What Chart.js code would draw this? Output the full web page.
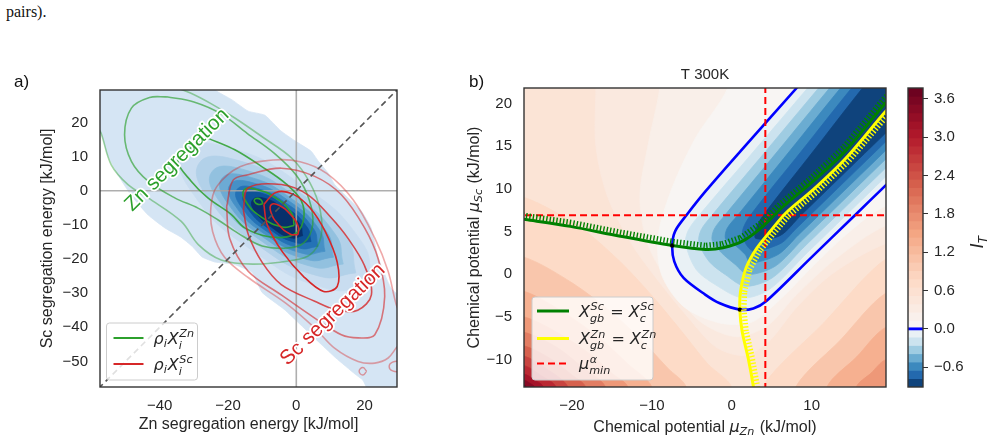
<!DOCTYPE html>
<html><head><meta charset="utf-8"><title>Segregation chart</title>
<script src="https://cdn.jsdelivr.net/npm/chart.js@4.4.1/dist/chart.umd.min.js"></script>
<style>
html,body{margin:0;padding:0;background:#fff;}
#wrap{position:relative;width:991px;height:441px;overflow:hidden;background:#fff;}
#wrap canvas{position:absolute;left:0;top:0;}
#pre{position:absolute;left:6px;top:3px;font-family:"Liberation Serif","DejaVu Serif",serif;font-size:16px;line-height:18px;color:#111;}
</style></head>
<body><div id="wrap"><div id="pre">pairs).</div>
<canvas id="cA" width="991" height="441"></canvas>
<canvas id="cB" width="991" height="441"></canvas>
<canvas id="cC" width="991" height="441"></canvas>
</div>
<script>
// ================= PANEL a DATA =================
const aTicksX = [-40, -20, 0, 20];
const aTicksY = [-50, -40, -30, -20, -10, 0, 10, 20];
const aLimits = [-57.5, 29.5];

const densityEnvelope = [[-59,31],[-23.8,31],[-23.8,29.5],[-18.8,26.6],[-14.1,23.3],[-9.2,22.1],[-4.5,17.5],[-0.4,14.6],[4.3,11.6],[6.4,8.7],[9.3,5.2],[11.3,1.7],[15.1,-2.1],[19.0,-5.9],[21.9,-10.9],[24.0,-19.7],[27.7,-28.5],[31,-32],[31,-59],[21.5,-59],[19.5,-55.5],[17.2,-53.7],[11.6,-49.0],[7.2,-44.9],[1.4,-39.4],[-3.6,-34.7],[-10.0,-29.8],[-13.0,-23.9],[-18.5,-21.5],[-23.8,-20.9],[-27.6,-19.4],[-30.6,-16.2],[-33.8,-13.6],[-38.5,-10.9],[-43.4,-7.1],[-48.4,-1.3],[-52.2,4.6],[-55.2,10.4],[-57.2,16.9],[-59,17]];
const densityRing1 = [[22.35,-27.52],[19.06,-14.85],[1.39,1.83],[-20.32,12.75],[-33.35,11.52],[-30.06,-1.15],[-12.39,-17.83],[9.32,-28.75],[22.35,-27.52]];
const densityRing2 = [[17.43,-24.07],[14.69,-13.68],[0.13,0.03],[-17.73,9.04],[-28.43,8.07],[-25.69,-2.32],[-11.13,-16.03],[6.73,-25.04],[17.43,-24.07]];
const densityRing3 = [[13.75,-21.49],[11.44,-12.79],[-0.79,-1.28],[-15.78,6.29],[-24.75,5.49],[-22.44,-3.21],[-10.21,-14.72],[4.78,-22.29],[13.75,-21.49]];
const densityRing4 = [[10.88,-19.48],[8.92,-12.07],[-1.48,-2.27],[-14.24,4.17],[-21.88,3.48],[-19.92,-3.93],[-9.52,-13.73],[3.24,-20.17],[10.88,-19.48]];
const densityRing5 = [[8.42,-17.76],[6.77,-11.43],[-2.06,-3.09],[-12.91,2.37],[-19.42,1.76],[-17.77,-4.57],[-8.94,-12.91],[1.91,-18.37],[8.42,-17.76]];
const densityRing6 = [[6.38,-16.32],[4.93,-10.98],[-2.63,-3.9],[-11.87,0.78],[-17.38,0.32],[-15.93,-5.02],[-8.37,-12.1],[0.87,-16.78],[6.38,-16.32]];
const densityRing7 = [[4.33,-14.89],[3.07,-10.55],[-3.2,-4.72],[-10.83,-0.55],[-15.33,-1.11],[-14.07,-5.45],[-7.8,-11.28],[-0.17,-15.19],[4.33,-14.89]];
const densityRing8 = [[1.87,-13.17],[1.01,-9.8],[-3.66,-5.38],[-9.41,-2.2],[-12.87,-2.83],[-12.01,-6.2],[-7.34,-10.62],[-1.59,-13.8],[1.87,-13.17]];

const contourZn1 = [[-58.5,19],[-57.2,16.9],[-54.2,7.6],[-49.3,1.8],[-43.4,-2.1],[-33.7,-9.0],[-28.7,-15.8],[-22,-20.3],[-12.7,-21.5],[-1.8,-20.5],[4.0,-18.8],[7.2,-13.6],[7.0,-5.7],[4.0,2.3],[-1.3,9.5],[-10,15.8],[-18,21.3],[-25,25.5],[-31,28.6],[-36,30.5],[-40,32]];
const contourZn2 = [[-38,27.5],[-30,26],[-22,22.5],[-14.4,16.8],[-6.5,11],[0,4.5],[3.8,-2.7],[4.8,-10],[2.2,-15.3],[-2.5,-16.8],[-10,-16.2],[-17,-12.5],[-23,-8.5],[-28.8,-5.1],[-35.6,-2.1],[-43.4,2.8],[-48.3,8.6],[-50.3,16.4],[-48.3,24.2],[-43,27.3],[-38,27.5]];
const contourZn3 = [[-25.9,15.4],[-31,12.5],[-34.7,8.6],[-30.8,2.8],[-25.9,-2.1],[-19,-7],[-15.1,-10.9],[-8,-13.5],[-1,-13],[2,-9],[1.5,-3],[-3,2],[-10,7],[-18,12],[-25.9,15.4]];
const contourZn4 = [[-0.63,-10.17],[-1.37,-6.62],[-5.99,-2.13],[-11.79,0.38],[-15.37,0.17],[-14.63,-3.38],[-10.01,-7.87],[-4.21,-10.62],[-0.63,-10.17]];
const contourZn5 = [[-9.8,-3.8],[-10.4,-2.6],[-11.8,-2.3],[-12.3,-3.1],[-11.2,-4.0],[-9.8,-3.8]];

const contourSc1 = [[31,-37],[29.3,-33.4],[26.9,-23.6],[23,-13.9],[16.7,-2.7],[8.9,5.1],[1.1,8.5],[-6.7,9.0],[-16.5,7.0],[-23.3,1.2],[-25,-4.7],[-24.5,-12],[-21,-19.5],[-14,-25.5],[-3,-33],[5.4,-40.2],[11.2,-46.1],[18.1,-50],[23,-50.5],[26.9,-49],[29.3,-46],[31,-44]];
const contourSc2 = [[-20.4,-4.7],[-18.5,3.1],[-14.1,4.7],[-4.4,6.6],[5.4,4.2],[13.2,-1.2],[20,-10.9],[24,-20],[25.9,-31],[23,-42.2],[18.1,-43.1],[13.2,-42.2],[5.4,-37.3],[-4.4,-30.5],[-14.1,-23.6],[-19.5,-14],[-20.4,-4.7]];
const contourSc3 = [[-15.5,-5.7],[-14.1,0.8],[-4.4,1.8],[3.4,-1.2],[10.3,-8],[15.1,-13.9],[20,-22],[22,-30.5],[18,-35],[12,-35],[5.4,-32.4],[-4.4,-27.5],[-10,-21],[-14,-13],[-15.5,-5.7]];
const contourSc4 = [[-9.5,-4],[-6,-0.5],[-1,-1],[4,-5],[8.5,-12],[12,-21],[12,-28],[8,-29.5],[2,-25],[-4,-18],[-8.5,-10],[-9.5,-4]];
const contourSc5 = [[0.51,-12.92],[0.58,-10.54],[-1.68,-6.98],[-4.94,-4.34],[-7.31,-4.08],[-7.38,-6.46],[-5.12,-10.02],[-1.86,-12.66],[0.51,-12.92]];
const contourScIsland1 = [[20.6,-52.9],[19.5,-51.8],[18.4,-52.9],[19.5,-54],[20.6,-52.9]];
const contourScIsland2 = [[31,-50],[28.2,-50.2],[27.2,-51.5],[28.2,-52.8],[31,-53]];

const zeroLineV = [[0,-60],[0,32]];
const zeroLineH = [[-60,0],[32,0]];
const diagonalLine = [[-60,-60],[32,32]];
const labelZn = {text:'Zn segregation', x:-34.9, y:9.0};
const labelSc = {text:'Sc segregation', x:10.7, y:-36.3};

// ================= PANEL b DATA =================
const bTicksX = [-20, -10, 0, 10];
const bTicksY = [-10, -5, 0, 5, 10, 15, 20];
const bLimitsX = [-26, 19.3];
const bLimitsY = [-13.2, 21.8];

const itZero = [[10.7,24.58],[8.09,21.77],[1.1,14.42],[-3.3,9.7],[-5.7,6.88],[-7.08,5.05],[-7.45,3.37],[-7.2,1.5],[-6.03,-0.43],[-3.33,-2.38],[-1.5,-3.4],[1.01,-4.14],[2.7,-4.0],[4.3,-3.16],[9.84,1.86],[15.38,6.88],[19.13,10.28],[22.26,13.12]];
const itNeg1 = [[12.08,24.58],[9.47,21.77],[2.78,14.42],[-4.10,6.88],[-5.45,5.12],[-5.78,3.56],[-4.45,0.55],[-2.08,-1.21],[1.34,-2.77],[4.68,-1.79],[9.47,2.54],[14.26,6.88],[19.13,11.30],[22.26,14.14]];
const itNeg2 = [[13.45,24.58],[10.84,21.77],[4.27,14.42],[-2.49,6.88],[-3.83,5.20],[-4.12,3.76],[-2.87,1.53],[-0.83,-0.03],[1.68,-1.40],[5.05,-0.43],[9.09,3.23],[13.13,6.88],[19.13,12.32],[22.26,15.16]];
const itNeg3 = [[14.83,24.58],[12.22,21.77],[5.76,14.42],[-0.89,6.88],[-2.20,5.28],[-2.45,3.95],[-1.28,2.51],[0.43,1.14],[2.01,-0.03],[5.43,0.94],[8.72,3.91],[12.01,6.88],[19.13,13.35],[22.26,16.18]];
const itNeg4 = [[16.20,24.58],[13.59,21.77],[7.25,14.42],[0.72,6.88],[-0.58,5.36],[-0.78,4.15],[0.30,3.48],[1.68,2.31],[2.34,1.33],[5.80,2.31],[8.34,4.60],[10.88,6.88],[19.13,14.37],[22.26,17.20]];
const itNeg5 = [[17.58,24.58],[14.97,21.77],[8.73,14.42],[2.32,6.88],[1.34,5.05],[1.76,3.56],[2.76,2.70],[6.18,3.64],[7.97,5.26],[9.76,6.88],[19.13,15.39],[22.26,18.22]];
const itNeg6 = [[18.95,24.58],[16.34,21.77],[10.22,14.42],[3.93,6.88],[3.09,5.44],[3.01,4.19],[6.01,4.50],[8.63,6.88],[19.13,16.41],[22.26,19.24]];
const itNegLevels = [0, -0.13, -0.26, -0.39, -0.52, -0.65, -0.78];

const lobeLevels = [0.6, 0.9, 1.2, 1.5, 1.8, 2.1, 2.4, 2.7, 3.0, 3.3, 3.6];
const lobeLowerLeft = [
 [[-30,9],[-26,9],[-19,5.5],[-14,1.5],[-10,-2.5],[-6,-7],[-3,-10.5],[0,-13.2],[0,-17],[-30,-17]],
 [[-30,2],[-26,2],[-20,-1],[-15,-4.5],[-11,-8],[-8,-11],[-5.7,-13.2],[-5.7,-17],[-30,-17]],
 [[-30,-2],[-26,-2],[-21,-4.5],[-16.5,-7.5],[-13,-10.5],[-10,-13.2],[-10,-17],[-30,-17]],
 [[-30,-5],[-26,-5],[-21.5,-7],[-17.5,-9.5],[-15,-11.6],[-13,-13.2],[-13,-17],[-30,-17]],
 [[-30,-6.8],[-26,-6.8],[-22,-8.5],[-18.8,-10.8],[-15.8,-13.2],[-15.8,-17],[-30,-17]],
 [[-30,-8.4],[-26,-8.4],[-22.5,-10],[-20,-11.8],[-18.3,-13.2],[-18.3,-17],[-30,-17]],
 [[-30,-9.6],[-26,-9.6],[-23.3,-11],[-20.5,-13.2],[-20.5,-17],[-30,-17]],
 [[-30,-10.7],[-26,-10.7],[-23.8,-11.9],[-22,-13.2],[-22,-17],[-30,-17]],
 [[-30,-11.7],[-26,-11.7],[-24.6,-12.4],[-23.6,-13.2],[-23.6,-17],[-30,-17]],
 [[-30,-12.4],[-26,-12.4],[-25.2,-12.8],[-24.7,-13.2],[-24.7,-17],[-30,-17]],
 [[-30,-13],[-26,-13],[-25.7,-13.2],[-25.7,-17],[-30,-17]]
];
const lobeLowerRight = [
 [[3.8,-17],[3.8,-13.2],[11.5,-5.7],[19.3,1.8],[23,1.8],[23,-17]],
 [[8,-17],[8,-13.2],[13.6,-7.7],[19.3,-2.2],[23,-2.2],[23,-17]],
 [[11.9,-17],[11.9,-13.2],[15.6,-9.7],[19.3,-6.2],[23,-6.2],[23,-17]],
 [[15.6,-17],[15.6,-13.2],[17.4,-11.6],[19.3,-10],[23,-10],[23,-17]]
];
const valleyLevels = [0.45, 0.3, 0.13];
const valleys = [
 [[-17,25],[-17,21.8],[-17,15],[-15.5,9],[-12.5,3.5],[-9,-1],[-5.5,-5],[-2,-8.5],[1.5,-9.5],[4.5,-8],[8,-4],[12.5,0],[19.3,3.6],[23,3.6],[23,25]],
 [[-9,25],[-9,21.8],[-10.5,15],[-11.5,9],[-10.5,3.5],[-7.5,-1.5],[-4,-5.5],[0.5,-7.3],[4.5,-6],[8,-2.5],[13,1.8],[19.3,5.7],[23,5.7],[23,25]],
 [[-0.5,25],[-0.5,21.8],[-4.5,16],[-7.5,10],[-9.2,4.5],[-8.8,0],[-6,-3.8],[-1.5,-5.7],[2.5,-5.6],[6,-3],[10,0.8],[14.5,4.8],[19.3,8.0],[23,8.0],[23,25]]
];
const fieldBaseValue = 0.525;

const scEquality = [[-27,6.55],[-25.8,6.4],[-20.2,5.6],[-13.95,4.45],[-7.45,3.37],[-3.3,2.9],[-1.1,3.1],[1.4,3.9],[3.9,5.6],[6.4,7.9],[10.2,10.9],[14.3,14.5],[19.1,19.9],[21,21.9]];
const znEquality = [[20.5,20.3],[19.1,18.9],[14.3,13.6],[10.2,9.9],[6.8,7.2],[4.8,5.0],[3.1,3.0],[1.8,0.75],[1.1,-2.0],[1.01,-4.14],[1.3,-6.7],[2.05,-9.8],[2.7,-13.1],[2.85,-14.5]];
const muMinZn = 4.2;
const muMinSc = 6.9;
const crossings = [[-7.45,3.37],[1.01,-4.14]];

// ================= COLORBAR DATA =================
const cbNegLevels = [-0.91,-0.78,-0.65,-0.52,-0.39,-0.26,-0.13,0];
const cbPosLevels = [0,0.13,0.26,0.39,0.52,0.65,0.78,0.91,1.04,1.17,1.3,1.43,1.56,1.69,1.82,1.95,2.08,2.21,2.34,2.47,2.6,2.73,2.86,2.99,3.12,3.25,3.38,3.51,3.64,3.77];
const cbTicks = [-0.6, 0, 0.6, 1.2, 1.8, 2.4, 3.0, 3.6];

// ================= STYLE HELPERS =================
const SANS = '"Liberation Sans", Arial, Helvetica, sans-serif';
const MATH = '"DejaVu Sans", sans-serif';
const INK = '#262626';
Chart.defaults.font.family = SANS;
Chart.defaults.color = INK;

const STOPS = [[0,[5,48,97]],[0.1,[33,102,172]],[0.2,[67,147,195]],[0.3,[146,197,222]],[0.4,[209,229,240]],[0.5,[247,247,247]],[0.6,[253,219,199]],[0.7,[244,165,130]],[0.8,[214,96,77]],[0.9,[178,24,43]],[1,[103,0,31]]];
const VMIN = cbNegLevels[0], VMAX = cbPosLevels[cbPosLevels.length-1];
function cmap(v){
  let t = v < 0 ? 0.5 + 0.5*v/Math.abs(VMIN) : 0.5 + 0.5*v/VMAX;
  t = Math.max(0, Math.min(1, t));
  for (let i = 0; i < STOPS.length-1; i++){
    const [t0,c0] = STOPS[i], [t1,c1] = STOPS[i+1];
    if (t <= t1){ const f = (t-t0)/(t1-t0); return 'rgb(' + c0.map((c,k)=>Math.round(c+(c1[k]-c)*f)).join(',') + ')'; }
  }
  return 'rgb(103,0,31)';
}
const P = arr => arr.map(([x,y]) => ({x, y}));
function area(arr, color, tension){
  return {data:P(arr), fill:'shape', backgroundColor:color, borderColor:color, borderWidth:0.8, tension:(tension===undefined?0.35:tension), pointRadius:0};
}
function curve(arr, color, width, extra){
  return Object.assign({data:P(arr), fill:false, borderColor:color, borderWidth:width, tension:0.35, pointRadius:0}, extra||{});
}
function ordered(list){ list.forEach((d,i)=>{ d.order = -i; }); return list; }
const fmtInt = v => (v < 0 ? '\u2212' : '') + Math.abs(v);
const fmtCb = v => (v < 0 ? '\u2212' : '') + Math.abs(v).toFixed(1);

function fontStr(it, size, fam){ return (it ? 'italic ' : '') + size + 'px ' + (fam || MATH); }
function richWidth(ctx, segs, size){
  let w = 0;
  for (const s of segs){
    ctx.font = fontStr(s.it, size, s.f); w += ctx.measureText(s.t).width;
    if (s.sub || s.sup){
      ctx.font = fontStr(true, size*0.7, MATH);
      const ew = Math.max(s.sub ? ctx.measureText(s.sub).width : 0, s.sup ? ctx.measureText(s.sup).width : 0);
      w += ew + size*0.06;
    }
  }
  return w;
}
function drawRich(ctx, segs, x, y, size, color, align){
  const W = richWidth(ctx, segs, size);
  let cx = align === 'center' ? x - W/2 : (align === 'right' ? x - W : x);
  const base = y + size*0.36;
  ctx.fillStyle = color; ctx.textAlign = 'left'; ctx.textBaseline = 'alphabetic';
  for (const s of segs){
    ctx.font = fontStr(s.it, size, s.f); ctx.fillText(s.t, cx, base); cx += ctx.measureText(s.t).width;
    if (s.sub || s.sup){
      ctx.font = fontStr(true, size*0.7, MATH);
      let ew = 0;
      if (s.sup){ ctx.fillText(s.sup, cx + size*0.04, base - size*0.42); ew = Math.max(ew, ctx.measureText(s.sup).width + size*0.04); }
      if (s.sub){ ctx.fillText(s.sub, cx, base + size*(s.sup ? 0.3 : 0.22)); ew = Math.max(ew, ctx.measureText(s.sub).width); }
      cx += ew + size*0.06;
    }
  }
}
function roundRect(ctx, x, y, w, h, r){
  ctx.beginPath(); ctx.moveTo(x+r,y); ctx.lineTo(x+w-r,y); ctx.quadraticCurveTo(x+w,y,x+w,y+r);
  ctx.lineTo(x+w,y+h-r); ctx.quadraticCurveTo(x+w,y+h,x+w-r,y+h); ctx.lineTo(x+r,y+h);
  ctx.quadraticCurveTo(x,y+h,x,y+h-r); ctx.lineTo(x,y+r); ctx.quadraticCurveTo(x,y,x+r,y); ctx.closePath();
}
function frame(ctx, a){ ctx.save(); ctx.strokeStyle = '#333'; ctx.lineWidth = 1.4; ctx.strokeRect(a.left, a.top, a.right-a.left, a.bottom-a.top); ctx.restore(); }
function axisScales(limX, limY, ticksX, ticksY, yWidth){
  return {
    x:{type:'linear', min:limX[0], max:limX[1], grid:{display:false, drawTicks:false}, border:{display:false},
       ticks:{autoSkip:false, maxRotation:0, padding:10, font:{size:15}, color:INK, callback:fmtInt},
       afterBuildTicks:s=>{ s.ticks = ticksX.map(v=>({value:v})); }, afterFit:s=>{ s.height = 30; }},
    y:{type:'linear', min:limY[0], max:limY[1], grid:{display:false, drawTicks:false}, border:{display:false},
       ticks:{autoSkip:false, padding:12, font:{size:15}, color:INK, callback:fmtInt},
       afterBuildTicks:s=>{ s.ticks = ticksY.map(v=>({value:v})); }, afterFit:s=>{ s.width = yWidth; }}
  };
}

// ================= PANEL a =================
const GREEN = [44,160,44], RED = [214,39,40];
const rgba = (c,a) => 'rgba(' + c.join(',') + ',' + a + ')';
const densityRings = [densityRing1, densityRing2, densityRing3, densityRing4, densityRing5, densityRing6, densityRing7, densityRing8];
const DENS_COLORS = ['#c9ddf0','#b2d1e9','#92c1df','#6caad4','#4690c6','#2472b6','#0d5299','#08306b'];

const dsA = ordered([
  area(densityEnvelope, '#d5e5f4', 0.15),
  ...densityRings.map((r,i) => area(r, DENS_COLORS[i], 0.5)),
  curve(zeroLineV, 'rgba(165,165,165,0.9)', 1.6, {tension:0}),
  curve(zeroLineH, 'rgba(165,165,165,0.9)', 1.6, {tension:0}),
  curve(contourZn1, rgba(GREEN,0.45), 1.6),
  curve(contourZn2, rgba(GREEN,0.65), 1.6),
  curve(contourZn3, rgba(GREEN,0.85), 1.6),
  curve(contourZn4, rgba(GREEN,1), 1.6, {tension:0.5}),
  curve(contourZn5, rgba(GREEN,1), 1.6, {tension:0.5}),
  curve(contourSc1, rgba(RED,0.4), 1.6),
  curve(contourSc2, rgba(RED,0.6), 1.6),
  curve(contourSc3, rgba(RED,0.8), 1.6),
  curve(contourSc4, rgba(RED,1), 1.6),
  curve(contourSc5, rgba(RED,1), 1.6, {tension:0.5}),
  curve(contourScIsland1, rgba(RED,0.45), 1.4, {tension:0.5}),
  curve(contourScIsland2, rgba(RED,0.45), 1.4, {tension:0.5}),
  curve(diagonalLine, '#555555', 1.6, {tension:0, borderDash:[6,4]})
]);

const decoA = {
  id:'decoA',
  afterDatasetsDraw(chart){
    const ctx = chart.ctx, a = chart.chartArea, xs = chart.scales.x, ys = chart.scales.y;
    ctx.save();
    ctx.beginPath(); ctx.rect(a.left, a.top, a.right-a.left, a.bottom-a.top); ctx.clip();
    [[labelZn, 'rgb(44,160,44)', 44.5], [labelSc, 'rgb(214,39,40)', 44]].forEach(([n, col, ang]) => {
      ctx.save();
      ctx.translate(xs.getPixelForValue(n.x), ys.getPixelForValue(n.y));
      ctx.rotate(-ang*Math.PI/180);
      ctx.font = '20.5px ' + SANS; ctx.textAlign = 'center'; ctx.textBaseline = 'middle';
      ctx.lineJoin = 'round'; ctx.lineWidth = 3.5; ctx.strokeStyle = '#ffffff';
      ctx.strokeText(n.text, 0, 0); ctx.fillStyle = col; ctx.fillText(n.text, 0, 0);
      ctx.restore();
    });
    ctx.restore();
    frame(ctx, a);
    const lx = a.left + 6.5, ly = a.bottom - 64;
    ctx.save();
    roundRect(ctx, lx, ly, 91, 57, 3); ctx.fillStyle = 'rgba(255,255,255,0.82)'; ctx.fill();
    ctx.strokeStyle = '#cccccc'; ctx.lineWidth = 1; ctx.stroke();
    [[rgba(GREEN,1), 'Zn', 15], [rgba(RED,1), 'Sc', 41]].forEach(([col, el, dy]) => {
      ctx.strokeStyle = col; ctx.lineWidth = 2; ctx.beginPath(); ctx.moveTo(lx+7, ly+dy); ctx.lineTo(lx+37, ly+dy); ctx.stroke();
      drawRich(ctx, [{t:'\u03c1', it:true, sub:'i'}, {t:'X', it:true, sub:'i', sup:el}], lx+47, ly+dy, 16, INK, 'left');
    });
    ctx.restore();
  },
  afterDraw(chart){
    const ctx = chart.ctx, a = chart.chartArea;
    ctx.save();
    ctx.fillStyle = INK; ctx.font = '16px ' + SANS; ctx.textAlign = 'center'; ctx.textBaseline = 'middle';
    ctx.fillText('Zn segregation energy [kJ/mol]', (a.left+a.right)/2, 425);
    ctx.translate(48, (a.top+a.bottom)/2); ctx.rotate(-Math.PI/2);
    ctx.fillText('Sc segregation energy [kJ/mol]', 0, 0);
    ctx.restore();
    ctx.save(); ctx.fillStyle = '#111'; ctx.font = '17px ' + SANS; ctx.textAlign = 'left'; ctx.textBaseline = 'middle';
    ctx.fillText('a)', 14, 82); ctx.fillText('b)', 469, 82); ctx.restore();
  }
};

new Chart(document.getElementById('cA'), {
  type:'line',
  data:{datasets:dsA},
  options:{
    responsive:false, animation:false, events:[],
    layout:{padding:{left:0, top:90, right:594, bottom:24}},
    elements:{point:{radius:0}, line:{capBezierPoints:false}},
    plugins:{legend:{display:false}, tooltip:{enabled:false}},
    scales:axisScales(aLimits, aLimits, aTicksX, aTicksY, 100)
  },
  plugins:[decoA]
});

// ================= PANEL b =================
const itNegContours = [itZero, itNeg1, itNeg2, itNeg3, itNeg4, itNeg5, itNeg6];
const FAR = [[30,30]];
const dsB = [];
lobeLevels.forEach((lv, i) => {
  const next = i+1 < lobeLevels.length ? lobeLevels[i+1] : VMAX;
  const col = cmap((lv + next)/2);
  dsB.push(area(lobeLowerLeft[i], col, 0.3));
  if (lobeLowerRight[i]) dsB.push(area(lobeLowerRight[i], col, 0.3));
});
valleys.forEach((poly, i) => {
  const lv = valleyLevels[i];
  const lower = i+1 < valleyLevels.length ? valleyLevels[i+1] : 0;
  dsB.push(area(poly, cmap((lv + lower)/2), 0.3));
});
itNegContours.forEach((poly, i) => {
  const lv = itNegLevels[i];
  const lower = i+1 < itNegLevels.length ? itNegLevels[i+1] : VMIN;
  dsB.push(area(poly.concat(FAR), cmap((lv + lower)/2), 0.3));
});
dsB.push(curve(itZero, '#0000ff', 2.6, {tension:0.3}));
dsB.push(curve([[muMinZn, -20], [muMinZn, 30]], '#ff0000', 2, {tension:0, borderDash:[7,4]}));
dsB.push(curve([[-30, muMinSc], [25, muMinSc]], '#ff0000', 2, {tension:0, borderDash:[7,4]}));
dsB.push(curve(scEquality, '#008000', 3, {tension:0.3, hatch:{color:'#008000', len:5.5, gap:3.4, width:1.4, off:1.2}}));
dsB.push(curve(znEquality, '#ffff00', 3, {tension:0.3, hatch:{color:'#ffff00', len:5.5, gap:3.4, width:1.4, off:1.2}}));
dsB.push({data:P(crossings), showLine:false, pointRadius:2.2, pointBackgroundColor:'#000', pointBorderWidth:0, borderColor:'#000'});
ordered(dsB);

const hatchPlugin = {
  id:'hatch',
  afterDatasetsDraw(chart){
    const ctx = chart.ctx, a = chart.chartArea;
    chart.data.datasets.forEach((ds, i) => {
      if (!ds.hatch) return;
      const h = ds.hatch;
      const pts = chart.getDatasetMeta(i).data.map(p => [p.x, p.y]);
      ctx.save();
      ctx.beginPath(); ctx.rect(a.left, a.top, a.right-a.left, a.bottom-a.top); ctx.clip();
      ctx.strokeStyle = h.color; ctx.lineWidth = h.width; ctx.lineCap = 'butt';
      ctx.beginPath();
      let carry = 0;
      for (let k = 0; k < pts.length-1; k++){
        const [x0,y0] = pts[k], [x1,y1] = pts[k+1];
        const dx = x1-x0, dy = y1-y0, L = Math.hypot(dx, dy);
        if (!L) continue;
        const ux = dx/L, uy = dy/L, nx = uy, ny = -ux;
        let s = carry;
        while (s <= L){
          const px = x0 + ux*s, py = y0 + uy*s;
          ctx.moveTo(px + nx*h.off, py + ny*h.off);
          ctx.lineTo(px + nx*(h.off+h.len), py + ny*(h.off+h.len));
          s += h.gap;
        }
        carry = s - L;
      }
      ctx.stroke();
      ctx.restore();
    });
  }
};

const decoB = {
  id:'decoB',
  beforeDatasetsDraw(chart){
    const ctx = chart.ctx, a = chart.chartArea;
    ctx.save(); ctx.fillStyle = cmap(fieldBaseValue); ctx.fillRect(a.left, a.top, a.right-a.left, a.bottom-a.top); ctx.restore();
  },
  afterDraw(chart){
    const ctx = chart.ctx, a = chart.chartArea;
    frame(ctx, a);
    const lx = a.left + 8, ly = a.bottom - 90;
    ctx.save();
    roundRect(ctx, lx, ly, 121, 83, 3); ctx.fillStyle = 'rgba(255,255,255,0.8)'; ctx.fill();
    ctx.strokeStyle = '#cccccc'; ctx.lineWidth = 1; ctx.stroke();
    const items = [
      ['#008000', [], [{t:'X', it:true, sub:'gb', sup:'Sc'}, {t:' = '}, {t:'X', it:true, sub:'c', sup:'Sc'}], 14],
      ['#ffff00', [], [{t:'X', it:true, sub:'gb', sup:'Zn'}, {t:' = '}, {t:'X', it:true, sub:'c', sup:'Zn'}], 41.5],
      ['#ff0000', [7,4], [{t:'\u03bc', it:true, sub:'min', sup:'\u03b1'}], 66.5]
    ];
    items.forEach(([col, dash, segs, dy]) => {
      ctx.save(); ctx.strokeStyle = col; ctx.lineWidth = col === '#ff0000' ? 2 : 3; ctx.setLineDash(dash);
      ctx.beginPath(); ctx.moveTo(lx+5, ly+dy); ctx.lineTo(lx+37, ly+dy); ctx.stroke(); ctx.restore();
      drawRich(ctx, segs, lx+47, ly+dy, 16, INK, 'left');
    });
    ctx.restore();
    ctx.save();
    ctx.fillStyle = INK; ctx.font = '15px ' + SANS; ctx.textAlign = 'center'; ctx.textBaseline = 'middle';
    ctx.fillText('T 300K', (a.left+a.right)/2, 75);
    drawRich(ctx, [{t:'Chemical potential ', f:SANS}, {t:'\u03bc', it:true, sub:'Zn'}, {t:' (kJ/mol)', f:SANS}], (a.left+a.right)/2, 426, 16, INK, 'center');
    ctx.translate(473, (a.top+a.bottom)/2); ctx.rotate(-Math.PI/2);
    drawRich(ctx, [{t:'Chemical potential ', f:SANS}, {t:'\u03bc', it:true, sub:'Sc'}, {t:' (kJ/mol)', f:SANS}], 0, 0, 16, INK, 'center');
    ctx.restore();
  }
};

new Chart(document.getElementById('cB'), {
  type:'line',
  data:{datasets:dsB},
  options:{
    responsive:false, animation:false, events:[],
    layout:{padding:{left:0, top:88, right:105, bottom:24}},
    elements:{point:{radius:0}, line:{capBezierPoints:false}},
    plugins:{legend:{display:false}, tooltip:{enabled:false}},
    scales:axisScales(bLimitsX, bLimitsY, bTicksX, bTicksY, 524)
  },
  plugins:[hatchPlugin, decoB]
});

// ================= COLORBAR =================
const cbBands = [];
for (let i = 0; i < cbNegLevels.length-1; i++) cbBands.push([cbNegLevels[i], cbNegLevels[i+1]]);
for (let i = 0; i < cbPosLevels.length-1; i++) cbBands.push([cbPosLevels[i], cbPosLevels[i+1]]);
const dsC = cbBands.map(([lo,hi]) => ({data:[[lo,hi]], backgroundColor:cmap((lo+hi)/2), borderWidth:0, grouped:false, barPercentage:1, categoryPercentage:1}));
dsC.push({data:[[-0.017, 0.017]], backgroundColor:'#0000ff', borderWidth:0, grouped:false, barPercentage:1, categoryPercentage:1});
ordered(dsC);

const decoC = {
  id:'decoC',
  afterDraw(chart){
    const ctx = chart.ctx, a = chart.chartArea;
    frame(ctx, a);
    ctx.save(); ctx.translate(977, (a.top+a.bottom)/2 + 4); ctx.rotate(-Math.PI/2);
    drawRich(ctx, [{t:'I', it:true, sub:'T'}], 0, 0, 17, INK, 'center');
    ctx.restore();
  }
};

new Chart(document.getElementById('cC'), {
  type:'bar',
  data:{labels:['I_T'], datasets:dsC},
  options:{
    responsive:false, animation:false, events:[],
    layout:{padding:{left:908, top:88, right:0, bottom:54}},
    plugins:{legend:{display:false}, tooltip:{enabled:false}},
    scales:{
      x:{display:false},
      y:{position:'right', min:VMIN, max:VMAX,
         grid:{display:true, drawOnChartArea:false, drawTicks:true, tickLength:5, color:'#333', tickWidth:1},
         border:{display:false},
         ticks:{autoSkip:false, padding:6, font:{size:15}, color:INK, callback:fmtCb},
         afterBuildTicks:s=>{ s.ticks = cbTicks.map(v=>({value:v})); }, afterFit:s=>{ s.width = 68; }}
    }
  },
  plugins:[decoC]
});
</script></body></html>
